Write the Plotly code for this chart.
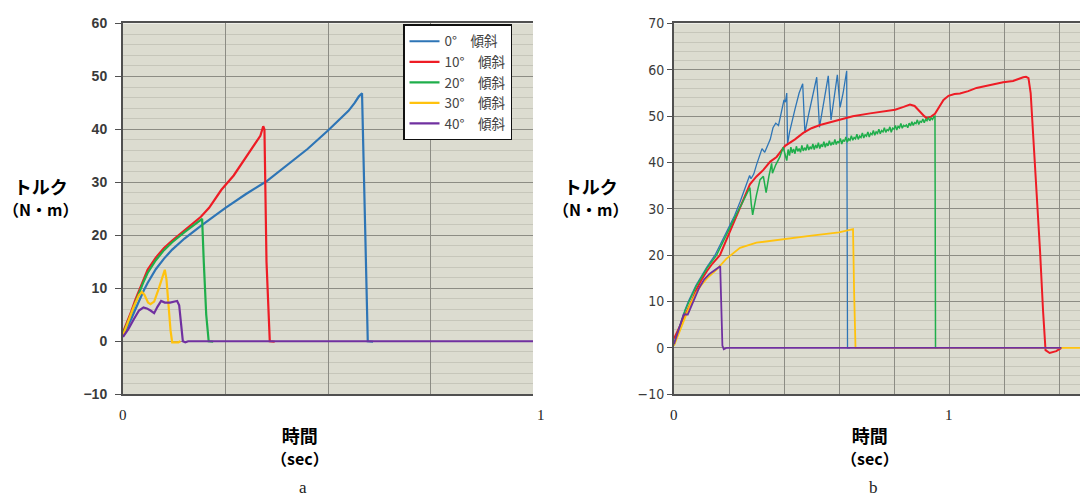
import plotly.graph_objects as go

# ---------------- Chart a data (time in sec, torque in N·m) ----------------
a_names = ["0°\u2003傾斜", "10°\u2003傾斜", "20°\u2003傾斜", "30°\u2003傾斜", "40°\u2003傾斜"]
colors = ["#2e75b6", "#ee1c25", "#1fae4b", "#ffc20e", "#7030a0"]

a0_t = [0, 0.01, 0.02, 0.03, 0.04, 0.05, 0.06, 0.08, 0.10, 0.12, 0.15, 0.19, 0.25, 0.30, 0.35,
        0.40, 0.45, 0.50, 0.55, 0.565, 0.575, 0.583, 0.590, 0.597, 0.61]
a0_v = [1.0, 2.5, 4.2, 6.0, 7.8, 9.5, 11.0, 13.6, 15.6, 17.3, 19.4, 21.8, 25.2, 27.8, 30.2,
        33.2, 36.3, 39.8, 43.5, 45.0, 46.2, 46.8, 24.0, 0.0, -0.1]

a1_t = [0, 0.01, 0.02, 0.03, 0.04, 0.05, 0.06, 0.08, 0.10, 0.12, 0.15, 0.19, 0.21, 0.24, 0.27,
        0.30, 0.32, 0.335, 0.342, 0.345, 0.350, 0.358, 0.37]
a1_v = [1.7, 3.5, 5.6, 7.8, 9.8, 11.8, 13.5, 15.8, 17.6, 19.0, 21.0, 23.5, 25.2, 28.6, 31.3,
        34.8, 37.0, 38.8, 40.6, 40.0, 15.0, 0.0, -0.1]

a2_t = [0, 0.01, 0.02, 0.03, 0.04, 0.05, 0.06, 0.08, 0.10, 0.12, 0.15, 0.18, 0.193, 0.197,
        0.203, 0.209, 0.22]
a2_v = [1.4, 3.2, 5.2, 7.3, 9.3, 11.2, 12.9, 15.3, 17.2, 18.7, 20.6, 22.4, 23.1, 15.0,
        5.0, 0.0, -0.1]

a3_t = [0, 0.013, 0.026, 0.039, 0.046, 0.052, 0.061, 0.067, 0.076, 0.087, 0.096, 0.102,
        0.106, 0.111, 0.116, 0.120, 0.135, 0.14]
a3_v = [1.1, 3.8, 6.5, 8.7, 9.3, 8.8, 7.3, 7.0, 7.5, 9.9, 12.3, 13.5,
        11.7, 6.2, 2.0, -0.2, -0.2, 0.0]

a4_t = [0, 0.013, 0.026, 0.039, 0.050, 0.058, 0.067, 0.076, 0.084, 0.093, 0.102, 0.115,
        0.126, 0.132, 0.137, 0.142, 0.146, 0.152, 0.159, 1.0]
a4_v = [0.8, 2.3, 4.1, 5.8, 6.4, 6.2, 5.8, 5.3, 6.5, 7.6, 7.3, 7.3,
        7.5, 7.6, 6.8, 2.6, 0.0, -0.2, 0.0, 0.0]

# ---------------- Chart b data ----------------
b0_t = [0, 0.02, 0.04, 0.052, 0.08, 0.10, 0.12, 0.149, 0.17, 0.20, 0.22, 0.24, 0.255, 0.265,
        0.275, 0.28, 0.29, 0.30, 0.31, 0.32, 0.33, 0.34, 0.35, 0.36, 0.37, 0.38, 0.39, 0.40,
        0.405, 0.41, 0.413, 0.42, 0.44, 0.455, 0.468, 0.476, 0.49, 0.505, 0.519, 0.529, 0.54,
        0.552, 0.561, 0.571, 0.582, 0.594, 0.604, 0.615, 0.628, 0.629, 0.631, 0.64]
b0_v = [0.5, 4.5, 8.2, 10.0, 13.5, 15.5, 17.5, 20.0, 22.5, 25.8, 28.5, 31.5, 34.0, 36.0,
        37.2, 36.5, 37.5, 39.5, 41.5, 43.0, 42.2, 43.5, 45.0, 47.5, 48.5, 48.0, 51.0, 53.5,
        53.0, 55.0, 44.0, 46.5, 51.5, 55.0, 57.0, 46.4, 50.5, 55.0, 58.4, 47.6, 51.5,
        55.5, 58.7, 49.2, 54.0, 58.9, 51.9, 55.0, 59.8, 30.0, 0.0, 0.0]

b1_t = [0, 0.02, 0.04, 0.064, 0.08, 0.10, 0.12, 0.14, 0.167, 0.204, 0.228, 0.25, 0.276, 0.30,
        0.325, 0.35, 0.373, 0.404, 0.44, 0.47, 0.50, 0.531, 0.561, 0.604, 0.65, 0.713, 0.76,
        0.804, 0.835, 0.858, 0.875, 0.895, 0.91, 0.919, 0.935, 0.949, 0.965, 0.98, 0.998,
        1.02, 1.04, 1.07, 1.10, 1.15, 1.197, 1.233, 1.25, 1.27, 1.28, 1.289, 1.297, 1.307,
        1.331, 1.342, 1.351, 1.366, 1.39, 1.409]
b1_v = [2.0, 4.5, 7.3, 10.0, 12.4, 14.7, 16.6, 18.2, 20.0, 25.2, 28.7, 32.0, 35.3, 37.0,
        38.4, 40.2, 41.2, 43.6, 45.0, 46.4, 47.4, 48.1, 48.6, 49.4, 50.0, 50.6, 51.0,
        51.4, 52.0, 52.5, 52.2, 50.9, 50.0, 49.6, 49.9, 50.5, 52.0, 53.5, 54.4,
        54.8, 54.9, 55.4, 56.1, 56.8, 57.3, 57.6, 58.0, 58.4, 58.5, 58.2, 55.0, 45.3,
        21.0, 8.0, -0.5, -1.1, -0.7, 0.0]

b2_t = [0, 0.02, 0.04, 0.055, 0.08, 0.10, 0.12, 0.155, 0.19, 0.22, 0.25, 0.265, 0.276, 0.281,
        0.286, 0.30, 0.313, 0.325, 0.335, 0.345, 0.355, 0.358, 0.37, 0.385, 0.397, 0.405, 0.41,
        0.415, 0.42, 0.425, 0.43, 0.435, 0.44, 0.445, 0.45, 0.455, 0.46, 0.465, 0.47, 0.475,
        0.48, 0.485, 0.49, 0.495, 0.50,
        0.505, 0.51, 0.515, 0.52, 0.525, 0.53, 0.535, 0.54, 0.545, 0.55, 0.555, 0.56, 0.565,
        0.57, 0.575, 0.58, 0.585, 0.59, 0.595, 0.60,
        0.605, 0.61, 0.615, 0.62, 0.625, 0.63, 0.635, 0.64, 0.645, 0.65, 0.655, 0.66, 0.665,
        0.67, 0.675, 0.68, 0.685, 0.69, 0.695, 0.70,
        0.705, 0.71, 0.715, 0.72, 0.725, 0.73, 0.735, 0.74, 0.745, 0.75, 0.755, 0.76, 0.765,
        0.77, 0.775, 0.78, 0.785, 0.79, 0.795, 0.80,
        0.805, 0.81, 0.815, 0.82, 0.825, 0.83, 0.835, 0.84, 0.845, 0.85, 0.855, 0.86, 0.865,
        0.87, 0.875, 0.88, 0.885, 0.89, 0.895, 0.90,
        0.905, 0.91, 0.915, 0.92, 0.925, 0.93, 0.935, 0.94, 0.945, 0.949, 0.951, 0.96]
b2_v = [1.0, 4.5, 8.0, 10.0, 13.2, 15.2, 17.2, 20.0, 24.5, 28.0, 31.5, 33.2, 34.6, 31.0,
        28.7, 33.0, 36.3, 37.0, 33.5, 37.0, 39.8, 37.7, 39.5, 41.2, 43.3, 41.5, 40.4,
        42.8, 41.5, 43.3, 42.1, 42.9, 41.9, 43.5, 42.4, 43.0, 42.2, 43.7, 42.5, 43.2,
        42.6, 43.9, 42.7, 43.4, 42.9,
        44.0, 42.8, 43.8, 43.1, 44.3, 43.0, 43.9, 43.4, 44.5, 43.3, 44.2, 43.6, 44.7,
        43.7, 44.3, 43.9, 45.0, 43.9, 44.6, 44.2,
        45.2, 44.0, 44.9, 44.5, 45.5, 44.4, 45.1, 44.8, 45.8, 44.8, 45.4, 45.1, 46.1,
        45.0, 45.7, 45.4, 46.4, 45.3, 46.0, 45.7,
        46.6, 45.5, 46.3, 46.0, 46.9, 45.9, 46.6, 46.3, 47.2, 46.2, 46.9, 46.6, 47.5,
        46.5, 47.1, 46.9, 47.7, 46.5, 47.4, 47.2,
        48.0, 47.0, 47.8, 47.5, 48.4, 47.4, 48.0, 47.8, 48.1, 47.5, 48.5, 47.9, 48.8,
        48.0, 48.6, 48.4, 49.2, 48.2, 48.9, 48.7,
        49.4, 48.6, 49.3, 49.0, 49.7, 49.0, 49.6, 49.3, 49.9, 50.0, 0.0, 0.0]

b3_t = [0, 0.02, 0.04, 0.06, 0.08, 0.10, 0.12, 0.155, 0.19, 0.24, 0.30, 0.40, 0.50, 0.60,
        0.645, 0.651, 0.655, 0.66, 1.48]
b3_v = [0.5, 3.5, 6.8, 9.5, 11.8, 13.6, 15.0, 16.9, 19.2, 21.6, 22.7, 23.5, 24.2, 24.9,
        25.4, 25.6, 12.0, 0.0, 0.0]

b4_t = [0, 0.015, 0.03, 0.035, 0.05, 0.055, 0.07, 0.09, 0.11, 0.13, 0.15, 0.165, 0.168,
        0.176, 0.181, 0.19, 1.409]
b4_v = [0.8, 3.5, 6.5, 7.2, 7.2, 8.0, 10.0, 12.8, 14.8, 16.0, 16.9, 17.5, 17.6,
        0.5, -0.3, 0.0, 0.0]

a_series = [(a0_t, a0_v), (a1_t, a1_v), (a2_t, a2_v), (a3_t, a3_v), (a4_t, a4_v)]
b_series = [(b0_t, b0_v), (b1_t, b1_v), (b2_t, b2_v), (b3_t, b3_v), (b4_t, b4_v)]
b_widths = [1.3, 2.0, 1.5, 1.8, 1.8]

fig = go.Figure()
for i, (t, v) in enumerate(a_series):
    fig.add_trace(go.Scatter(x=t, y=v, mode="lines", name=a_names[i],
                             line=dict(color=colors[i], width=2.2),
                             xaxis="x", yaxis="y"))
for i, (t, v) in enumerate(b_series):
    fig.add_trace(go.Scatter(x=t, y=v, mode="lines", name=a_names[i], showlegend=False,
                             line=dict(color=colors[i], width=b_widths[i]),
                             xaxis="x2", yaxis="y2"))

W, H = 1080, 499
def px(x):
    return x / W
def py(y):
    return 1 - y / H

major = "#8c8c84"
minor = "#c6c6ba"
axline = "#505050"

common_y = dict(showgrid=True, gridcolor=major, gridwidth=1, zeroline=False,
                showline=True, linecolor=axline, linewidth=2, ticks="outside",
                tickcolor=axline, dtick=10,
                minor=dict(dtick=2, showgrid=True, gridcolor=minor, gridwidth=1, ticks=""))

fig.update_layout(
    width=W, height=H,
    margin=dict(l=0, r=0, t=0, b=0),
    paper_bgcolor="white",
    plot_bgcolor="#dcdcd0",
    xaxis=dict(domain=[px(123), px(533)], range=[0, 1], tickvals=[0, 0.25, 0.5, 0.75],
               showticklabels=False, showgrid=True, gridcolor=major, zeroline=False,
               showline=True, linecolor=axline, linewidth=2, mirror=True, ticks=""),
    yaxis=dict(domain=[py(399), py(16)], range=[-10, 60], anchor="x",
               ticklen=6, ticklabelstandoff=5,
               tickfont=dict(family="Liberation Sans, Arial, sans-serif", size=14,
                             color="#3a3a3a", weight="bold"),
               **common_y),
    xaxis2=dict(domain=[px(674), 1.0], range=[0, 406 / 275],
                tickvals=[0, 0.2, 0.4, 0.6, 0.8, 1.0, 1.2, 1.4],
                showticklabels=False, showgrid=True, gridcolor=major, zeroline=False,
                showline=True, linecolor=axline, linewidth=2, mirror=True, ticks="",
                anchor="y2"),
    yaxis2=dict(domain=[py(399), py(16)], range=[-10, 70], anchor="x2",
                ticklen=5,
                tickfont=dict(family="Liberation Sans Narrow, DejaVu Sans Condensed, sans-serif",
                              size=14, color="#3a3a3a"),
                **common_y),
    legend=dict(x=px(403), y=py(17), xanchor="left", yanchor="top",
                bgcolor="white", bordercolor="#111", borderwidth=1.5,
                font=dict(family="Noto Sans CJK JP, sans-serif", size=13.5, color="#444"),
                itemwidth=30, tracegroupgap=0),
    showlegend=True,
)

ann = []
for cx in (40, 590):
    ann.append(dict(text="<span style='font-size:18px'>トルク</span><br>"
                         "<span style='font-size:16px'>（N・m）</span>",
                    x=px(cx), y=py(195), xref="paper", yref="paper",
                    showarrow=False, xanchor="center", yanchor="middle",
                    font=dict(family="Noto Sans CJK JP, sans-serif", size=17,
                              color="black", weight="bold")))
for cx, lab in ((300, "a"), (870, "b")):
    ann.append(dict(text="<span style='font-size:18px'>時間</span><br>"
                         "<span style='font-size:16px'>（sec）</span>",
                    x=px(cx), y=py(453), xref="paper", yref="paper",
                    showarrow=False, xanchor="center", yanchor="middle",
                    font=dict(family="Noto Sans CJK JP, sans-serif", size=17,
                              color="black", weight="bold")))
    ann.append(dict(text=lab, x=px(cx + 3), y=py(495), xref="paper", yref="paper",
                    showarrow=False, xanchor="center", yanchor="middle",
                    font=dict(family="Liberation Serif, Times New Roman, serif", size=17,
                              color="#222")))

tick_font = dict(family="Liberation Serif, Times New Roman, serif", size=15, color="#222")
x_tick_labels = [("x", 0, "0", 0), ("x", 1, "1", 8), ("x2", 0, "0", 0), ("x2", 1, "1", 0)]
for xr, xv, txt, sh in x_tick_labels:
    ann.append(dict(text=txt, x=xv, xref=xr, y=py(420), yref="paper", xshift=sh,
                    showarrow=False, xanchor="center", yanchor="middle", font=tick_font))
fig.update_layout(annotations=ann)

fig.write_html("out.html")
